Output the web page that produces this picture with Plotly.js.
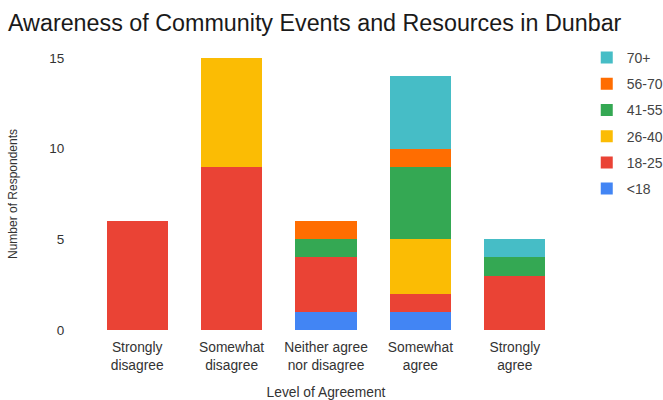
<!DOCTYPE html>
<html>
<head>
<meta charset="utf-8">
<script src="https://cdn.plot.ly/plotly-3.0.1.min.js"></script>
<style>body{margin:0;padding:0;background:#fff;} #chart{width:663px;height:400px;}</style>
</head>
<body>
<div id="chart"></div>
<script>
const categories = ["Strongly<br>disagree", "Somewhat<br>disagree", "Neither agree<br>nor disagree", "Somewhat<br>agree", "Strongly<br>agree"];
const seriesNames = ["<18", "18-25", "26-40", "41-55", "56-70", "70+"];
const under18 = [0, 0, 1, 1, 0];
const age18to25 = [6, 9, 3, 1, 3];
const age26to40 = [0, 6, 0, 3, 0];
const age41to55 = [0, 0, 1, 4, 1];
const age56to70 = [0, 0, 1, 1, 0];
const age70plus = [0, 0, 0, 4, 1];
const yTicks = [0, 5, 10, 15];

const seriesValues = [under18, age18to25, age26to40, age41to55, age56to70, age70plus];
const colors = ["#4285F4", "#EA4335", "#FBBC04", "#34A853", "#FF6D01", "#46BDC6"];

const traces = seriesNames.map((name, i) => ({
  type: 'bar',
  name: name,
  x: categories,
  y: seriesValues[i],
  marker: {color: colors[i], line: {width: 0}},
  legendgroup: 'g' + i,
  legendrank: 1000 - i,
  hoverinfo: 'x+y+name'
}));

const layout = {
  width: 663, height: 400,
  barmode: 'stack',
  bargap: 0.35,
  paper_bgcolor: '#fff', plot_bgcolor: '#fff',
  font: {family: 'Liberation Sans, Arial, sans-serif', size: 13, color: '#333'},
  margin: {l: 90, r: 101, t: 58, b: 70},
  title: {text: 'Awareness of Community Events and Resources in Dunbar', x: 8 / 663, xref: 'container', xanchor: 'left', y: 0.943, yref: 'container', yanchor: 'middle', font: {size: 23.3, color: '#1a1a1a'}},
  xaxis: {
    showgrid: false, zeroline: false, showline: false,
    ticks: 'outside', ticklen: 4, tickcolor: 'rgba(0,0,0,0)',
    tickfont: {size: 13.8, color: '#333'},
    title: {text: 'Level of Agreement', standoff: 17, font: {size: 13.8, color: '#333'}},
    automargin: false
  },
  yaxis: {
    range: [0, 15], tickvals: yTicks, ticktext: yTicks.map(String),
    showgrid: false, zeroline: false, showline: false,
    ticks: 'outside', ticklen: 22, tickcolor: 'rgba(0,0,0,0)',
    tickfont: {size: 13.5, color: '#333'},
    title: {text: 'Number of Respondents', standoff: 29, font: {size: 12, color: '#333'}},
    automargin: false
  },
  legend: {
    xref: 'container', yref: 'container', x: 0.885, y: 0.895, xanchor: 'left', yanchor: 'top',
    traceorder: 'grouped', tracegroupgap: 5,
    font: {size: 14, color: '#444'}, bgcolor: 'rgba(0,0,0,0)'
  },
  showlegend: true
};

Plotly.newPlot('chart', traces, layout, {displayModeBar: false, staticPlot: true});
</script>
</body>
</html>
